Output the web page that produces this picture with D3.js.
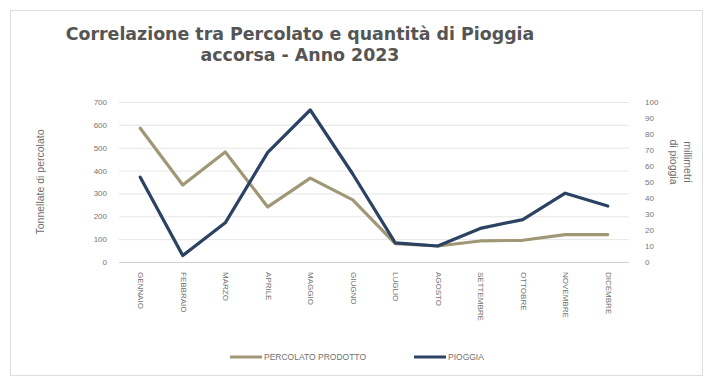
<!DOCTYPE html>
<html>
<head>
<meta charset="utf-8">
<script src="https://cdn.jsdelivr.net/npm/d3@7"></script>
<style>
  body { margin: 0; background: #fff; }
  svg { display: block; font-family: "Liberation Sans", Arial, sans-serif; }
</style>
</head>
<body>
<svg id="chart" width="707" height="380"></svg>
<script>
// Monthly data, 2023
const months = ["GENNAIO","FEBBRAIO","MARZO","APRILE","MAGGIO","GIUGNO","LUGLIO","AGOSTO","SETTEMBRE","OTTOBRE","NOVEMBRE","DICEMBRE"];
const percolato = [585, 337, 481, 241, 367, 272, 80, 70, 92, 95, 120, 120];   // tonnellate
const pioggia = [53, 4, 24.5, 68.5, 95, 55, 12, 10, 21, 26.5, 43, 35];         // millimetri
const leftTicks = [0,100,200,300,400,500,600,700];
const rightTicks = [0,10,20,30,40,50,60,70,80,90,100];

const svg = d3.select("#chart");
const plot = { left: 119, right: 629, top: 102, bottom: 262 };

// chart frame
svg.append("rect").attr("x", 10.5).attr("y", 10.5).attr("width", 692).attr("height", 365)
  .attr("fill", "#fff").attr("stroke", "#dedede");

const x = d3.scalePoint().domain(months).range([plot.left, plot.right]).padding(0.5);
const yL = d3.scaleLinear().domain([0, 700]).range([plot.bottom, plot.top]);
const yR = d3.scaleLinear().domain([0, 100]).range([plot.bottom, plot.top]);

// gridlines
svg.append("g").selectAll("line").data(leftTicks).join("line")
  .attr("x1", plot.left).attr("x2", plot.right)
  .attr("y1", d => yL(d) + 0.5).attr("y2", d => yL(d) + 0.5)
  .attr("stroke", d => d === 0 ? "#d0d0d0" : "#e6e6e6").attr("stroke-width", 1);

// left axis
const axL = d3.axisLeft(yL).tickValues(leftTicks).tickSize(0).tickPadding(12);
const gL = svg.append("g").attr("transform", `translate(${plot.left},0)`).call(axL);
gL.select(".domain").remove();
gL.selectAll("text").attr("fill", "#757575").attr("font-size", 8);

// right axis
const axR = d3.axisRight(yR).tickValues(rightTicks).tickSize(0).tickPadding(16);
const gR = svg.append("g").attr("transform", `translate(${plot.right},0)`).call(axR);
gR.select(".domain").remove();
gR.selectAll("text").attr("fill", "#757575").attr("font-size", 8);

// category labels, vertical
const gX = svg.append("g").attr("transform", `translate(0,${plot.bottom})`)
  .call(d3.axisBottom(x).tickSize(0).tickPadding(0));
gX.select(".domain").remove();
gX.selectAll("text")
  .attr("transform", "rotate(90)")
  .attr("x", 10).attr("y", 0).attr("dy", "0.32em")
  .attr("text-anchor", "start")
  .attr("fill", "#707070").attr("font-size", 8);

// series lines
const lineL = d3.line().x((d, i) => x(months[i])).y(d => yL(d));
const lineR = d3.line().x((d, i) => x(months[i])).y(d => yR(d));

svg.append("path").datum(percolato).attr("d", lineL)
  .attr("fill", "none").attr("stroke", "#a09776").attr("stroke-width", 3.2)
  .attr("stroke-linejoin", "round").attr("stroke-linecap", "round");
svg.append("path").datum(pioggia).attr("d", lineR)
  .attr("fill", "none").attr("stroke", "#2b4262").attr("stroke-width", 3.2)
  .attr("stroke-linejoin", "round").attr("stroke-linecap", "round");

// title
const title = svg.append("text").attr("text-anchor", "middle")
  .attr("font-family", "'DejaVu Sans', sans-serif")
  .attr("font-size", 17.4).attr("font-weight", "bold").attr("fill", "#555");
title.append("tspan").attr("x", 300).attr("y", 40).text("Correlazione tra Percolato e quantità di Pioggia");
title.append("tspan").attr("x", 300).attr("y", 61).text("accorsa - Anno 2023");

// axis titles
svg.append("text").attr("transform", "translate(44,182) rotate(-90)")
  .attr("text-anchor", "middle").attr("font-size", 10.5).attr("fill", "#707070")
  .text("Tonnellate di percolato");
const rt = svg.append("text").attr("transform", "translate(684,162) rotate(90)")
  .attr("text-anchor", "middle").attr("font-size", 10.5).attr("fill", "#707070");
rt.append("tspan").attr("x", 0).attr("y", 0).text("millimetri");
rt.append("tspan").attr("x", 0).attr("y", 14).text("di pioggia");

// legend
const legend = [
  { label: "PERCOLATO PRODOTTO", color: "#a09776", x: 230 },
  { label: "PIOGGIA", color: "#2b4262", x: 414 }
];
const lg = svg.append("g").selectAll("g").data(legend).join("g")
  .attr("transform", d => `translate(${d.x},357)`);
lg.append("line").attr("x1", 0).attr("x2", 32).attr("y1", 0).attr("y2", 0)
  .attr("stroke", d => d.color).attr("stroke-width", 3);
lg.append("text").attr("x", 34).attr("y", 0).attr("dy", "0.35em")
  .attr("font-size", 8.5).attr("fill", "#707070").text(d => d.label);
</script>
</body>
</html>
